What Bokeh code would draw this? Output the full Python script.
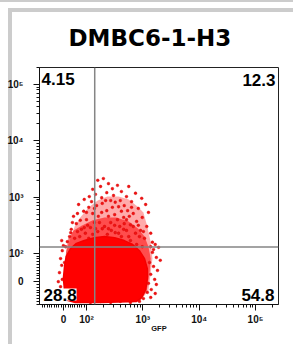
import numpy as np
from bokeh.plotting import figure
from bokeh.models import (FixedTicker, CustomJSTickFormatter, Span, Label, Range1d)
from bokeh.embed import file_html
from bokeh.resources import INLINE

# ---------------- data ----------------
title_text = "DMBC6-1-H3"
x_axis_label = "GFP"
tick_values = [0, 1e2, 1e3, 1e4, 1e5]
tick_labels = ["0", "10²", "10³", "10⁴", "10⁵"]
gate_x = 140.0   # GFP gate (raw intensity)
gate_y = 130.0   # y-channel gate (raw intensity)
pct_ul, pct_ur, pct_ll, pct_lr = "4.15", "12.3", "28.8", "54.8"

# event cloud, in biexponential display units (decades)
# dense core outline
core_x = [1.66, 1.61, 1.59, 1.61, 1.64, 1.72, 1.82, 1.96, 2.14, 2.32, 2.50,
          2.67, 2.82, 2.94, 3.03, 3.08, 3.08, 3.05, 2.98, 2.89, 2.25, 1.80]
core_y = [1.17, 1.34, 1.56, 1.77, 1.95, 2.09, 2.18, 2.23, 2.28, 2.30, 2.28,
          2.23, 2.16, 2.05, 1.91, 1.73, 1.54, 1.36, 1.22, 1.15, 1.13, 1.13]
# fairly dense zone outline
dense_x = [1.64, 1.68, 1.77, 1.93, 2.11, 2.32, 2.53, 2.75, 2.92, 3.03, 3.10,
           3.14, 3.12, 3.07, 2.96, 1.72, 1.59]
dense_y = [2.05, 2.27, 2.41, 2.50, 2.59, 2.64, 2.64, 2.57, 2.44, 2.30, 2.12,
           1.91, 1.66, 1.34, 1.17, 1.17, 1.52]
# medium-density zone outline
mid_x = [1.64, 1.70, 1.79, 1.89, 2.04, 2.20, 2.37, 2.57, 2.75, 2.91, 3.01,
         3.08, 3.14, 3.17, 3.14, 3.10, 2.96, 1.72, 1.61]
mid_y = [2.02, 2.23, 2.48, 2.64, 2.82, 2.94, 3.01, 3.01, 2.96, 2.83, 2.73,
         2.48, 2.20, 1.91, 1.66, 1.34, 1.17, 1.17, 1.52]
# individual (sparse) events
ev_x = [2.20, 2.30, 2.39, 2.25, 2.46, 2.11, 2.55, 2.36, 2.16, 2.62, 2.05, 2.48, 2.71, 2.27, 1.96,
        2.75, 2.87, 2.98, 2.80, 3.05, 2.92, 2.67, 3.10, 2.83, 2.99, 2.73, 2.60, 2.89, 3.07, 2.96,
        3.14, 2.78, 3.03, 3.17, 2.94,
        1.86, 1.95, 1.77, 2.04, 1.82, 1.91, 1.72, 2.00, 2.11, 1.79, 1.66, 1.88, 2.07, 1.98, 1.63,
        2.18, 1.73, 2.04, 2.14, 1.93,
        2.28, 2.43, 2.57, 2.36, 2.50, 2.21, 2.66, 2.43, 2.59, 2.28, 2.71, 2.20, 2.51, 2.37, 2.62,
        2.25, 2.78, 2.46, 2.12, 2.69,
        3.14, 3.22, 3.28, 3.17, 3.24, 3.12, 3.19, 3.26, 3.14, 3.21, 3.10, 3.24, 3.15, 3.08, 3.22,
        3.01, 3.14, 2.94, 3.19, 3.31,
        1.57, 1.54, 1.56, 1.52, 1.57, 1.54, 1.59, 1.64, 1.61, 1.50, 1.59, 1.56,
        1.89, 2.07, 2.25, 2.43, 2.60, 2.78, 1.98, 2.51, 2.69, 2.16,
        1.89, 2.02, 2.16, 2.32, 2.44, 2.57, 2.75, 2.87, 2.83, 2.67, 2.55, 2.39, 2.27, 2.14, 2.46,
        2.62, 2.76, 2.92, 3.01, 2.80, 2.51, 2.34, 2.09, 2.00, 1.84, 1.75, 1.96, 1.84, 2.11, 2.30,
        2.41, 2.57, 2.89, 2.99, 1.70, 2.23, 2.71, 2.50, 2.39, 2.66]
ev_y = [3.30, 3.33, 3.24, 3.19, 3.15, 3.14, 3.21, 3.08, 3.05, 3.10, 3.01, 3.03, 3.01, 2.99, 2.96,
        3.19, 3.07, 2.98, 2.92, 2.87, 2.80, 2.85, 2.73, 2.71, 2.64, 2.76, 2.94, 2.57, 2.48, 2.41,
        2.36, 2.51, 2.27, 2.20, 2.30,
        2.87, 2.75, 2.66, 2.82, 2.53, 2.43, 2.37, 2.60, 2.71, 2.27, 2.21, 2.30, 2.46, 2.36, 2.12,
        2.85, 2.43, 2.27, 2.55, 2.18,
        2.89, 2.94, 2.83, 2.76, 2.69, 2.66, 2.64, 2.55, 2.48, 2.44, 2.41, 2.39, 2.37, 2.34, 2.30,
        2.23, 2.23, 2.16, 2.18, 2.11,
        2.12, 2.16, 2.11, 2.02, 1.93, 1.84, 1.77, 1.70, 1.63, 1.54, 1.47, 1.45, 1.36, 1.31, 1.29,
        1.20, 1.22, 1.15, 2.07, 1.88,
        2.05, 1.91, 1.79, 1.66, 1.54, 1.41, 1.29, 1.20, 1.84, 1.50, 2.14, 2.23,
        1.15, 1.13, 1.15, 1.13, 1.15, 1.13, 1.18, 1.17, 1.18, 1.17,
        2.59, 2.50, 2.44, 2.48, 2.41, 2.36, 2.30, 2.36, 2.48, 2.53, 2.60, 2.66, 2.73, 2.80, 2.82,
        2.75, 2.66, 2.50, 2.39, 2.82, 2.91, 2.94, 2.92, 2.73, 2.71, 2.55, 2.46, 2.39, 2.34, 2.27,
        2.23, 2.21, 2.16, 2.12, 2.30, 2.55, 2.60, 2.50, 2.44, 2.43]

# ---------------- scale ----------------
T_X, T_Y = 106.0, 86.5   # linear/log switch points of the display transform


def disp(v, t):
    v = np.asarray(v, dtype=float)
    lin = np.log10(t) + (v - t) / (t * np.log(10))
    return np.where(v >= t, np.log10(np.maximum(v, 1e-9)), lin)


X0, X1 = 1.166, 5.408
Y0, Y1 = 1.095, 5.302
PPX = 239.0 / (X1 - X0)
PPY = 237.0 / (Y1 - Y0)

grey = "#cccccc"
p = figure(width=293, height=344, output_backend="svg", toolbar_location=None,
           x_range=Range1d(X0, X1), y_range=Range1d(Y0, Y1),
           min_border_left=39, min_border_right=15, min_border_top=67,
           min_border_bottom=40, background_fill_color="white",
           border_fill_color=None,
           styles={"background-color": "white",
                   "background-image": f"linear-gradient({grey},{grey}), linear-gradient({grey},{grey}), linear-gradient({grey},{grey})",
                   "background-size": "4px 340px, 290px 4px, 293px 2px",
                   "background-position": "8px 8px, 8px 8px, 0px 0px",
                   "background-repeat": "no-repeat"})
p.xgrid.visible = False
p.ygrid.visible = False
p.outline_line_color = "#222222"
p.outline_line_width = 1
p.outline_line_alpha = 1

# title
p.title.text = title_text
p.title.align = "left"
p.title.offset = 29
p.title.standoff = 33
p.title.text_font = "DejaVu Sans"
p.title.text_font_style = "bold"
p.title.text_font_size = "23px"
p.title.text_color = "black"

# cloud
p.patch(mid_x, mid_y, fill_color="#ff0000", fill_alpha=0.33, line_color=None)
p.patch(dense_x, dense_y, fill_color="#ff0000", fill_alpha=0.55, line_color=None)
p.scatter(ev_x, ev_y, marker="circle", size=2.8, fill_color="#f01414",
          line_color="#d40000", line_width=0.4)
p.patch(core_x, core_y, fill_color="#ff0000", line_color="#f40000", line_width=1.5)

# gates
p.add_layout(Span(location=float(disp(gate_x, T_X)), dimension="height",
                  line_color="#858585", line_width=1.5))
p.add_layout(Span(location=float(disp(gate_y, T_Y)), dimension="width",
                  line_color="#858585", line_width=1.5))


def make_ticker(t):
    major = [float(v) for v in disp(tick_values, t)]
    raw_minor = [s * k for s in (-1, 1) for k in range(10, 100, 10)]
    raw_minor += [k * 10.0 ** d for d in (2, 3, 4) for k in range(2, 10)]
    raw_minor += [2e5]
    minor = [float(v) for v in disp(raw_minor, t)]
    return FixedTicker(ticks=major, minor_ticks=minor), major


fmt_code = """
let out = "";
for (let i = 0; i < pos.length; i++) {
  if (Math.abs(tick - pos[i]) < 1e-6) { out = labs[i]; }
}
return out;
"""

for ax, t in ((p.xaxis[0], T_X), (p.yaxis[0], T_Y)):
    ticker, major = make_ticker(t)
    ax.ticker = ticker
    ax.formatter = CustomJSTickFormatter(args=dict(pos=major, labs=tick_labels), code=fmt_code)
    ax.axis_line_color = "#111111"
    ax.major_tick_line_color = "#111111"
    ax.minor_tick_line_color = "#111111"
    ax.major_tick_out = 6
    ax.major_tick_in = 0
    ax.minor_tick_out = 3
    ax.minor_tick_in = 0
    ax.major_label_text_font = "Liberation Sans"
    ax.major_label_text_font_size = "10px"
    ax.major_label_text_font_style = "bold"
    ax.major_label_text_color = "#111111"

p.yaxis.major_label_standoff = 10
p.xaxis.major_label_standoff = 3
p.xaxis.axis_label = x_axis_label
p.xaxis.axis_label_text_font = "Liberation Sans"
p.xaxis.axis_label_text_font_size = "7.5px"
p.xaxis.axis_label_text_font_style = "bold"
p.xaxis.axis_label_text_color = "#111111"
p.xaxis.axis_label_standoff = -4

# quadrant labels
lab_style = dict(text_font="Liberation Sans", text_font_style="bold",
                 text_font_size="17px", text_color="black",
                 text_baseline="alphabetic")
p.add_layout(Label(x=X0 + 2 / PPX, y=Y1 - 11 / PPY, text=pct_ul, text_align="left", **lab_style))
p.add_layout(Label(x=X1 - 3 / PPX, y=Y1 - 12 / PPY, text=pct_ur, text_align="right", **lab_style))
p.add_layout(Label(x=X0 + 4 / PPX, y=Y0 + 10 / PPY, text=pct_ll, text_align="left",
                   background_fill_color="white", **lab_style))
p.add_layout(Label(x=X1 - 4 / PPX, y=Y0 + 10 / PPY, text=pct_lr, text_align="right",
                   background_fill_color="white", **lab_style))

open("out.html", "w").write(file_html(p, INLINE))
